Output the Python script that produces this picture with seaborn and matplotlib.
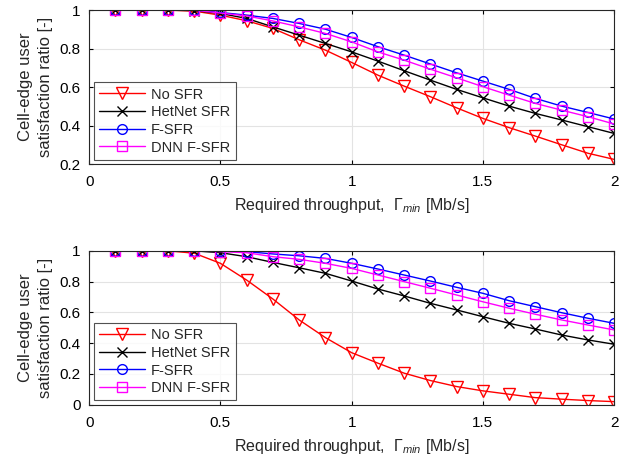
import numpy as np
import matplotlib
matplotlib.use("Agg")
import matplotlib.pyplot as plt
from matplotlib.ticker import FuncFormatter
import seaborn as sns

# required throughput (Mb/s)
gamma_min = [0.1, 0.2, 0.3, 0.4, 0.5, 0.6, 0.7, 0.8, 0.9, 1.0,
             1.1, 1.2, 1.3, 1.4, 1.5, 1.6, 1.7, 1.8, 1.9, 2.0]

series_names = ['No SFR', 'HetNet SFR', 'F-SFR', 'DNN F-SFR']

# upper panel
top_no_sfr = [1.0, 1.0, 1.0, 0.995, 0.974, 0.945, 0.905, 0.846, 0.792, 0.728,
              0.662, 0.605, 0.55, 0.492, 0.437, 0.389, 0.345, 0.30, 0.256, 0.224]
top_hetnet = [1.0, 1.0, 1.0, 0.998, 0.983, 0.957, 0.913, 0.87, 0.827, 0.783,
              0.735, 0.685, 0.636, 0.588, 0.544, 0.501, 0.463, 0.429, 0.394, 0.359]
top_fsfr = [1.0, 1.0, 1.0, 1.0, 0.988, 0.974, 0.957, 0.931, 0.901, 0.858,
            0.81, 0.766, 0.72, 0.674, 0.631, 0.588, 0.541, 0.501, 0.468, 0.434]
top_dnn = [1.0, 1.0, 1.0, 1.0, 0.985, 0.97, 0.944, 0.913, 0.879, 0.835,
           0.783, 0.74, 0.693, 0.648, 0.602, 0.558, 0.515, 0.48, 0.446, 0.408]

# lower panel
bot_no_sfr = [1.0, 1.0, 1.0, 0.985, 0.919, 0.81, 0.687, 0.551, 0.436, 0.338,
              0.27, 0.205, 0.157, 0.118, 0.09, 0.068, 0.046, 0.036, 0.027, 0.02]
bot_hetnet = [1.0, 1.0, 1.0, 1.0, 0.988, 0.962, 0.925, 0.89, 0.854, 0.804,
              0.752, 0.707, 0.659, 0.616, 0.572, 0.529, 0.492, 0.453, 0.421, 0.393]
bot_fsfr = [1.0, 1.0, 1.0, 1.0, 0.998, 0.995, 0.98, 0.968, 0.951, 0.919,
            0.882, 0.843, 0.804, 0.763, 0.724, 0.676, 0.637, 0.598, 0.562, 0.529]
bot_dnn = [1.0, 1.0, 1.0, 1.0, 0.995, 0.988, 0.962, 0.945, 0.919, 0.886,
           0.843, 0.80, 0.757, 0.713, 0.669, 0.627, 0.588, 0.551, 0.518, 0.486]

colors = ['#ff0000', '#000000', '#0000ff', '#ff00ff']
markers = ['v', 'x', 'o', 's']
msizes = [8, 7, 7, 6.5]

sns.set_style("white")
plt.rcParams['font.family'] = ['Liberation Sans', 'DejaVu Sans']
plt.rcParams['mathtext.fontset'] = 'custom'
plt.rcParams['mathtext.it'] = 'Liberation Serif:italic'
plt.rcParams['mathtext.sf'] = 'Liberation Sans:italic'
plt.rcParams['mathtext.rm'] = 'Liberation Sans'

fig = plt.figure(figsize=(6.28, 4.62), dpi=100)
ax1 = fig.add_axes([0.142, 0.645, 0.836, 0.333])
ax2 = fig.add_axes([0.142, 0.124, 0.836, 0.333])


def draw_panel(ax, data, ymin):
    for name, vals, c, m, ms in zip(series_names, data, colors, markers, msizes):
        sns.lineplot(x=gamma_min, y=vals, ax=ax, color=c, marker=m, markersize=ms,
                     markerfacecolor='none', markeredgecolor=c, markeredgewidth=1.0,
                     linewidth=1.0, label=name)
    ax.set_xlim(0, 2)
    ax.set_ylim(ymin, 1)
    ax.set_xticks([0, 0.5, 1, 1.5, 2])
    ax.set_yticks(np.arange(ymin, 1.001, 0.2))
    ax.xaxis.set_major_formatter(FuncFormatter(lambda v, p: '%g' % v))
    ax.yaxis.set_major_formatter(FuncFormatter(lambda v, p: '%g' % round(v, 2)))
    ax.grid(True, color='#e3e3e3', linewidth=0.8)
    ax.set_axisbelow(True)
    ax.tick_params(direction='in', length=3, labelsize=11, colors='black',
                   top=True, right=True, bottom=True, left=True)
    ax.tick_params(axis='x', pad=8)
    ax.tick_params(axis='y', pad=6)
    for s in ax.spines.values():
        s.set_color('#262626')
        s.set_linewidth(0.8)
    ax.set_xlabel(r'Required throughput,  $\mathit{\Gamma}_{\mathsf{min}}$ [Mb/s]',
                  fontsize=11.5, labelpad=5)
    ax.set_ylabel('Cell-edge user\nsatisfaction ratio [-]', fontsize=12,
                  labelpad=5, linespacing=1.4)
    leg = ax.legend(loc='lower left', fontsize=10.5, handlelength=3.2, frameon=True,
                    fancybox=False, borderpad=0.35, labelspacing=0.25,
                    handletextpad=0.4, borderaxespad=0.3)
    leg.get_frame().set_edgecolor('#262626')
    leg.get_frame().set_linewidth(0.8)


draw_panel(ax1, [top_no_sfr, top_hetnet, top_fsfr, top_dnn], 0.2)
draw_panel(ax2, [bot_no_sfr, bot_hetnet, bot_fsfr, bot_dnn], 0.0)

fig.savefig('out.png', dpi=100)
